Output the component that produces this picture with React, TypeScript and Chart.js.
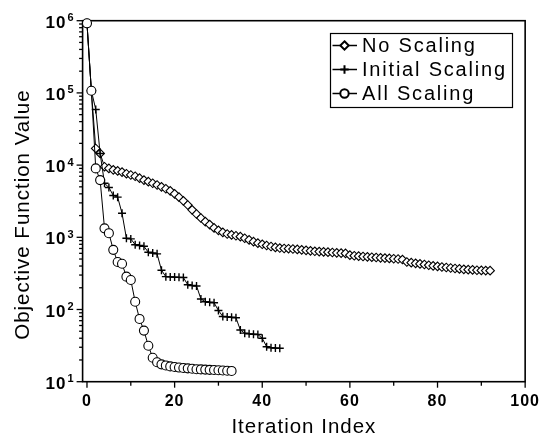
import React, { useEffect, useRef } from 'react';
import { Chart, registerables } from 'chart.js';

Chart.register(...registerables);

// ---- Data ----
const seriesLabels = ['No Scaling', 'Initial Scaling', 'All Scaling'];

const noScaling = [
  920000, 107000, 17000, 14500, 9500, 9000, 8600, 8300, 8000, 7600,
  7300, 7000, 6600, 6200, 5900, 5600, 5300, 5000, 4700, 4400,
  4000, 3600, 3200, 2800, 2400, 2100, 1850, 1650, 1500, 1350,
  1250, 1170, 1110, 1080, 1050, 1020, 970, 920, 870, 830,
  800, 770, 745, 725, 710, 700, 695, 688, 680, 670,
  660, 650, 640, 634, 628, 622, 616, 610, 604, 598,
  565, 555, 548, 542, 536, 530, 525, 520, 515, 510,
  505, 500, 492, 455, 445, 436, 428, 420, 410, 402,
  395, 388, 382, 376, 370, 365, 360, 356, 353, 350,
  348, 346, 345,
];

const initialScaling = [
  920000, 107000, 59000, 14500, 5600, 4900, 3800, 3600, 2150, 970,
  950, 790, 770, 750, 620, 605, 590, 350, 285, 283,
  281, 279, 277, 220, 215, 212, 140, 128, 126, 124,
  97, 80, 79, 78, 77, 52, 47, 46, 45.5, 45,
  40, 30.5, 29.5, 29.2, 29,
];

const allScaling = [
  920000, 107000, 9000, 6200, 1330, 1140, 670, 455, 430, 285,
  256, 128, 74, 51, 31.5, 21.5, 18.6, 17.4, 16.8, 16.3,
  16.0, 15.7, 15.5, 15.3, 15.1, 14.9, 14.8, 14.7, 14.6, 14.5,
  14.4, 14.3, 14.2, 14.1,
];

const xTickValues = [0, 20, 40, 60, 80, 100];
const yTickValues = [10, 100, 1000, 10000, 100000, 1000000];
const yTickBase = '10';
const yTickExponents = ['1', '2', '3', '4', '5', '6'];

const FONT = "'Liberation Sans', Arial, Helvetica, sans-serif";

const toPoints = (arr: number[]) => arr.map((v, i) => ({ x: i, y: v }));

const spacingPlugin = {
  id: 'spacing',
  beforeUpdate(chart: any) {
    chart.ctx.letterSpacing = '1px';
  },
  beforeDraw(chart: any) {
    chart.ctx.letterSpacing = '1px';
  },
};

const framePlugin = {
  id: 'frame',
  beforeDatasetsDraw(chart: any) {
    const { ctx, chartArea, scales } = chart;
    const { left, right, top, bottom } = chartArea;
    ctx.save();
    ctx.strokeStyle = '#000';
    ctx.lineWidth = 1.6;
    ctx.strokeRect(left, top, right - left, bottom - top);
    ctx.lineWidth = 1.3;
    for (let v = 0; v <= 100; v += 10) {
      const px = scales.x.getPixelForValue(v);
      const len = v % 20 === 0 ? 6 : 4;
      ctx.beginPath();
      ctx.moveTo(px, bottom);
      ctx.lineTo(px, bottom + len);
      ctx.stroke();
    }
    for (let e = 1; e <= 6; e++) {
      for (let m = 1; m <= 9; m++) {
        const v = m * Math.pow(10, e);
        if (v > 1000000) break;
        const py = scales.y.getPixelForValue(v);
        const len = m === 1 ? 6 : 3.5;
        ctx.beginPath();
        ctx.moveTo(left - len, py);
        ctx.lineTo(left, py);
        ctx.stroke();
      }
    }
    // y tick labels: "10" with a raised exponent
    ctx.fillStyle = '#000';
    (ctx as any).letterSpacing = '1px';
    yTickValues.forEach((v, i) => {
      const py = scales.y.getPixelForValue(v);
      const xr = left - 8;
      ctx.font = `bold 11px ${FONT}`;
      ctx.textAlign = 'right';
      ctx.textBaseline = 'alphabetic';
      ctx.fillText(yTickExponents[i], xr, py + 0.5);
      const ew = ctx.measureText(yTickExponents[i]).width;
      ctx.font = `bold 17px ${FONT}`;
      ctx.textBaseline = 'middle';
      ctx.fillText(yTickBase, xr - ew - 1, py + 2.5);
    });
    ctx.restore();
  },
};

function drawMarker(ctx: CanvasRenderingContext2D, style: string, x: number, y: number, r: number) {
  ctx.beginPath();
  if (style === 'diamond') {
    ctx.moveTo(x, y - r);
    ctx.lineTo(x + r, y);
    ctx.lineTo(x, y + r);
    ctx.lineTo(x - r, y);
    ctx.closePath();
    ctx.fillStyle = '#fff';
    ctx.fill();
    ctx.stroke();
  } else if (style === 'plus') {
    ctx.moveTo(x - r, y);
    ctx.lineTo(x + r, y);
    ctx.moveTo(x, y - r);
    ctx.lineTo(x, y + r);
    ctx.stroke();
  } else {
    ctx.arc(x, y, r, 0, Math.PI * 2);
    ctx.fillStyle = '#fff';
    ctx.fill();
    ctx.stroke();
  }
}

const legendPlugin = {
  id: 'customLegend',
  afterDraw(chart: any) {
    const { ctx } = chart;
    const styles = ['diamond', 'plus', 'circle'];
    const boxL = 330.5;
    const boxT = 33.5;
    const boxW = 182;
    const boxH = 74;
    ctx.save();
    ctx.fillStyle = '#fff';
    ctx.fillRect(boxL, boxT, boxW, boxH);
    ctx.strokeStyle = '#000';
    ctx.lineWidth = 1.2;
    ctx.strokeRect(boxL, boxT, boxW, boxH);
    const rowY = [45.5, 69.5, 93.5];
    chart.data.datasets.forEach((ds: any) => {
      const idx = seriesLabels.indexOf(ds.label);
      const y = rowY[idx];
      ctx.strokeStyle = '#000';
      ctx.lineWidth = 1.5;
      ctx.beginPath();
      ctx.moveTo(332.5, y);
      ctx.lineTo(357, y);
      ctx.stroke();
      ctx.lineWidth = 2;
      drawMarker(ctx, styles[idx], 344.5, y, 4.2);
      ctx.fillStyle = '#000';
      ctx.font = `20px ${FONT}`;
      (ctx as any).letterSpacing = '1.8px';
      ctx.textBaseline = 'middle';
      ctx.textAlign = 'left';
      ctx.fillText(ds.label, 362, y + 1);
    });
    ctx.restore();
  },
};

export default function App() {
  const canvasRef = useRef<HTMLCanvasElement | null>(null);

  useEffect(() => {
    const canvas = canvasRef.current;
    if (!canvas) return;
    const common = {
      borderColor: '#000',
      borderWidth: 1,
      pointBorderColor: '#000',
      pointBackgroundColor: '#fff',
      pointBorderWidth: 1.1,
      fill: false,
      tension: 0,
      clip: false as any,
    };
    const chart = new Chart(canvas, {
      type: 'line',
      data: {
        datasets: [
          {
            ...common,
            label: seriesLabels[2],
            data: toPoints(allScaling),
            pointStyle: 'circle',
            pointRadius: 4.5,
            order: 0,
          },
          {
            ...common,
            label: seriesLabels[1],
            data: toPoints(initialScaling),
            pointStyle: 'cross',
            pointRadius: 4,
            pointBorderWidth: 1.4,
            order: 1,
          },
          {
            ...common,
            label: seriesLabels[0],
            data: toPoints(noScaling),
            pointStyle: 'rectRot',
            pointRadius: 4.3,
            order: 2,
          },
        ],
      },
      options: {
        animation: false,
        responsive: false,
        maintainAspectRatio: false,
        layout: { padding: { top: 20.7, right: 21.3, bottom: 0, left: 0 } },
        plugins: {
          legend: { display: false },
          tooltip: { enabled: false },
          title: { display: false },
        },
        scales: {
          x: {
            type: 'linear',
            min: -1,
            max: 100,
            grid: { display: false, drawTicks: false },
            border: { display: false },
            afterBuildTicks: (scale: any) => {
              scale.ticks = xTickValues.map((v) => ({ value: v }));
            },
            afterFit: (scale: any) => {
              scale.height = 441 - 381.7;
            },
            ticks: {
              padding: 10,
              color: '#000',
              font: { family: FONT, size: 16, weight: 'bold' },
              maxRotation: 0,
              autoSkip: false,
              callback: (v: any) => String(v),
            },
            title: {
              display: true,
              text: 'Iteration Index',
              color: '#000',
              font: { family: FONT, size: 20.5 },
              padding: { top: 0, bottom: 1 },
            },
          },
          y: {
            type: 'logarithmic',
            min: 10,
            max: 1000000,
            grid: { display: false, drawTicks: false },
            border: { display: false },
            afterBuildTicks: (scale: any) => {
              scale.ticks = yTickValues.map((v) => ({ value: v, major: true }));
            },
            afterFit: (scale: any) => {
              scale.width = 82.6;
            },
            ticks: { display: false },
            title: {
              display: true,
              text: 'Objective Function Value    ',
              color: '#000',
              font: { family: FONT, size: 20.5 },
              padding: { top: 11, bottom: 0 },
            },
          },
        },
      } as any,
      plugins: [spacingPlugin, framePlugin, legendPlugin],
    });
    return () => chart.destroy();
  }, []);

  return (
    <div style={{ position: 'fixed', left: 0, top: 0, width: 550, height: 441, background: '#fff' }}>
      <canvas ref={canvasRef} width={550} height={441} style={{ display: 'block', width: 550, height: 441 }} />
    </div>
  );
}
